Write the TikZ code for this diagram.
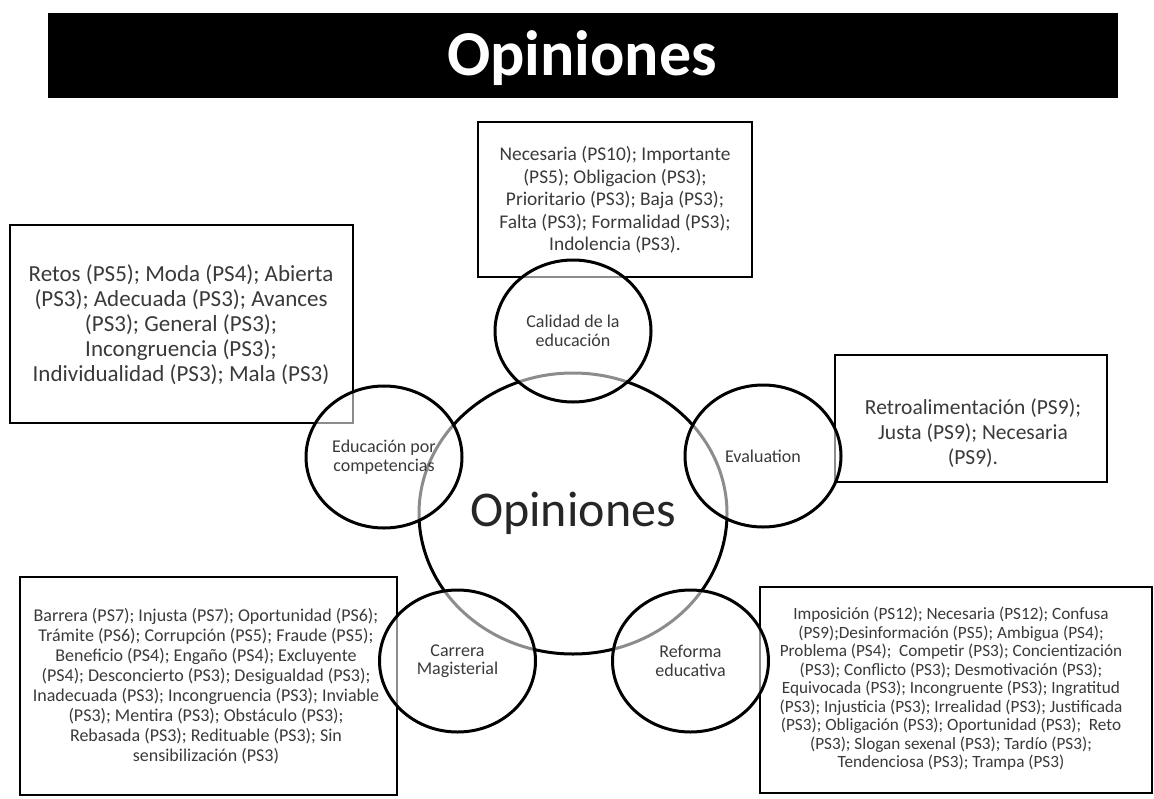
\documentclass[tikz,border=0pt]{standalone}
\usepackage{fontspec}
\setmainfont{Carlito}
\usetikzlibrary{shapes.geometric}
\definecolor{txtgray}{HTML}{3A3A3A}
\tikzset{
  box/.style={draw=black, line width=2.2pt, fill=white, inner sep=0pt},
  boxtext/.style={align=center, text=txtgray, inner sep=0pt},
  bubble/.style={ellipse, draw=black, line width=3pt, fill=white, fill opacity=0.55, text opacity=1, inner sep=0pt, minimum width=156pt, minimum height=142pt, align=center, text=txtgray, font=\fontsize{18}{18.5}\selectfont},
  hub/.style={ellipse, draw=black, line width=3pt, inner sep=0pt, minimum width=308pt, minimum height=281pt, text=black!85, font=\fontsize{50}{56}\selectfont}
}
\begin{document}
\begin{tikzpicture}[x=1pt,y=-1pt]
\useasboundingbox (0,0) rectangle (1154,798);
% title bar
\node[fill=black, inner sep=0pt, minimum width=1070pt, minimum height=85pt] (bar) at (583,55.5) {};
\node[text=white, font=\bfseries\fontsize{64}{70}\selectfont, anchor=base, inner sep=0pt] (title) at (582,75) {Opiniones};
% boxes
\node[box, minimum width=274pt, minimum height=155pt] (bTop) at (615,199.5) {};
\node[box, minimum width=343pt, minimum height=198pt] (bLeft) at (181.5,324) {};
\node[box, minimum width=272pt, minimum height=127pt] (bRight) at (971,418.5) {};
\node[box, minimum width=377pt, minimum height=218pt] (bBL) at (208.5,686) {};
\node[box, minimum width=392pt, minimum height=206pt] (bBR) at (956,690) {};
% box texts
\node[boxtext, font=\fontsize{19.4}{22.5}\selectfont] (tTop) at (615,200) {Necesaria (PS10); Importante\\(PS5); Obligacion (PS3);\\Prioritario (PS3); Baja (PS3);\\Falta (PS3); Formalidad (PS3);\\Indolencia (PS3).};
\node[boxtext, font=\fontsize{23}{25}\selectfont] (tLeft) at (181,325) {Retos (PS5); Moda (PS4); Abierta\\(PS3); Adecuada (PS3); Avances\\(PS3); General (PS3);\\Incongruencia (PS3);\\Individualidad (PS3); Mala (PS3)};
\node[boxtext, font=\fontsize{21.5}{25}\selectfont] (tRight) at (973,433) {Retroalimentación (PS9);\\Justa (PS9); Necesaria\\(PS9).};
\node[boxtext, font=\fontsize{18}{20}\selectfont] (tBL) at (206,686) {Barrera (PS7); Injusta (PS7); Oportunidad (PS6);\\Trámite (PS6); Corrupción (PS5); Fraude (PS5);\\Beneficio (PS4); Engaño (PS4); Excluyente\\(PS4); Desconcierto (PS3); Desigualdad (PS3);\\Inadecuada (PS3); Incongruencia (PS3); Inviable\\(PS3); Mentira (PS3); Obstáculo (PS3);\\Rebasada (PS3); Redituable (PS3); Sin\\sensibilización (PS3)};
\node[boxtext, font=\fontsize{17.2}{18.5}\selectfont] (tBR) at (951,689) {Imposición (PS12); Necesaria (PS12); Confusa\\(PS9);Desinformación (PS5); Ambigua (PS4);\\Problema (PS4); \ Competir (PS3); Concientización\\(PS3); Conflicto (PS3); Desmotivación (PS3);\\Equivocada (PS3); Incongruente (PS3); Ingratitud\\(PS3); Injusticia (PS3); Irrealidad (PS3); Justificada\\(PS3); Obligación (PS3); Oportunidad (PS3); \ Reto\\(PS3); Slogan sexenal (PS3); Tardío (PS3);\\Tendenciosa (PS3); Trampa (PS3)};
% central hub
\node[hub] (hub) at (573,513.5) {Opiniones};
% bubbles
\node[bubble] (calidad) at (573,331) {Calidad de la\\educación};
\node[bubble] (educ) at (384,457) {Educación por\\competencias};
\node[bubble] (eval) at (763,456) {Evaluation};
\node[bubble] (carrera) at (457.5,661) {Carrera\\Magisterial};
\node[bubble] (reforma) at (690.5,661) {Reforma\\educativa};
\end{tikzpicture}
\end{document}
